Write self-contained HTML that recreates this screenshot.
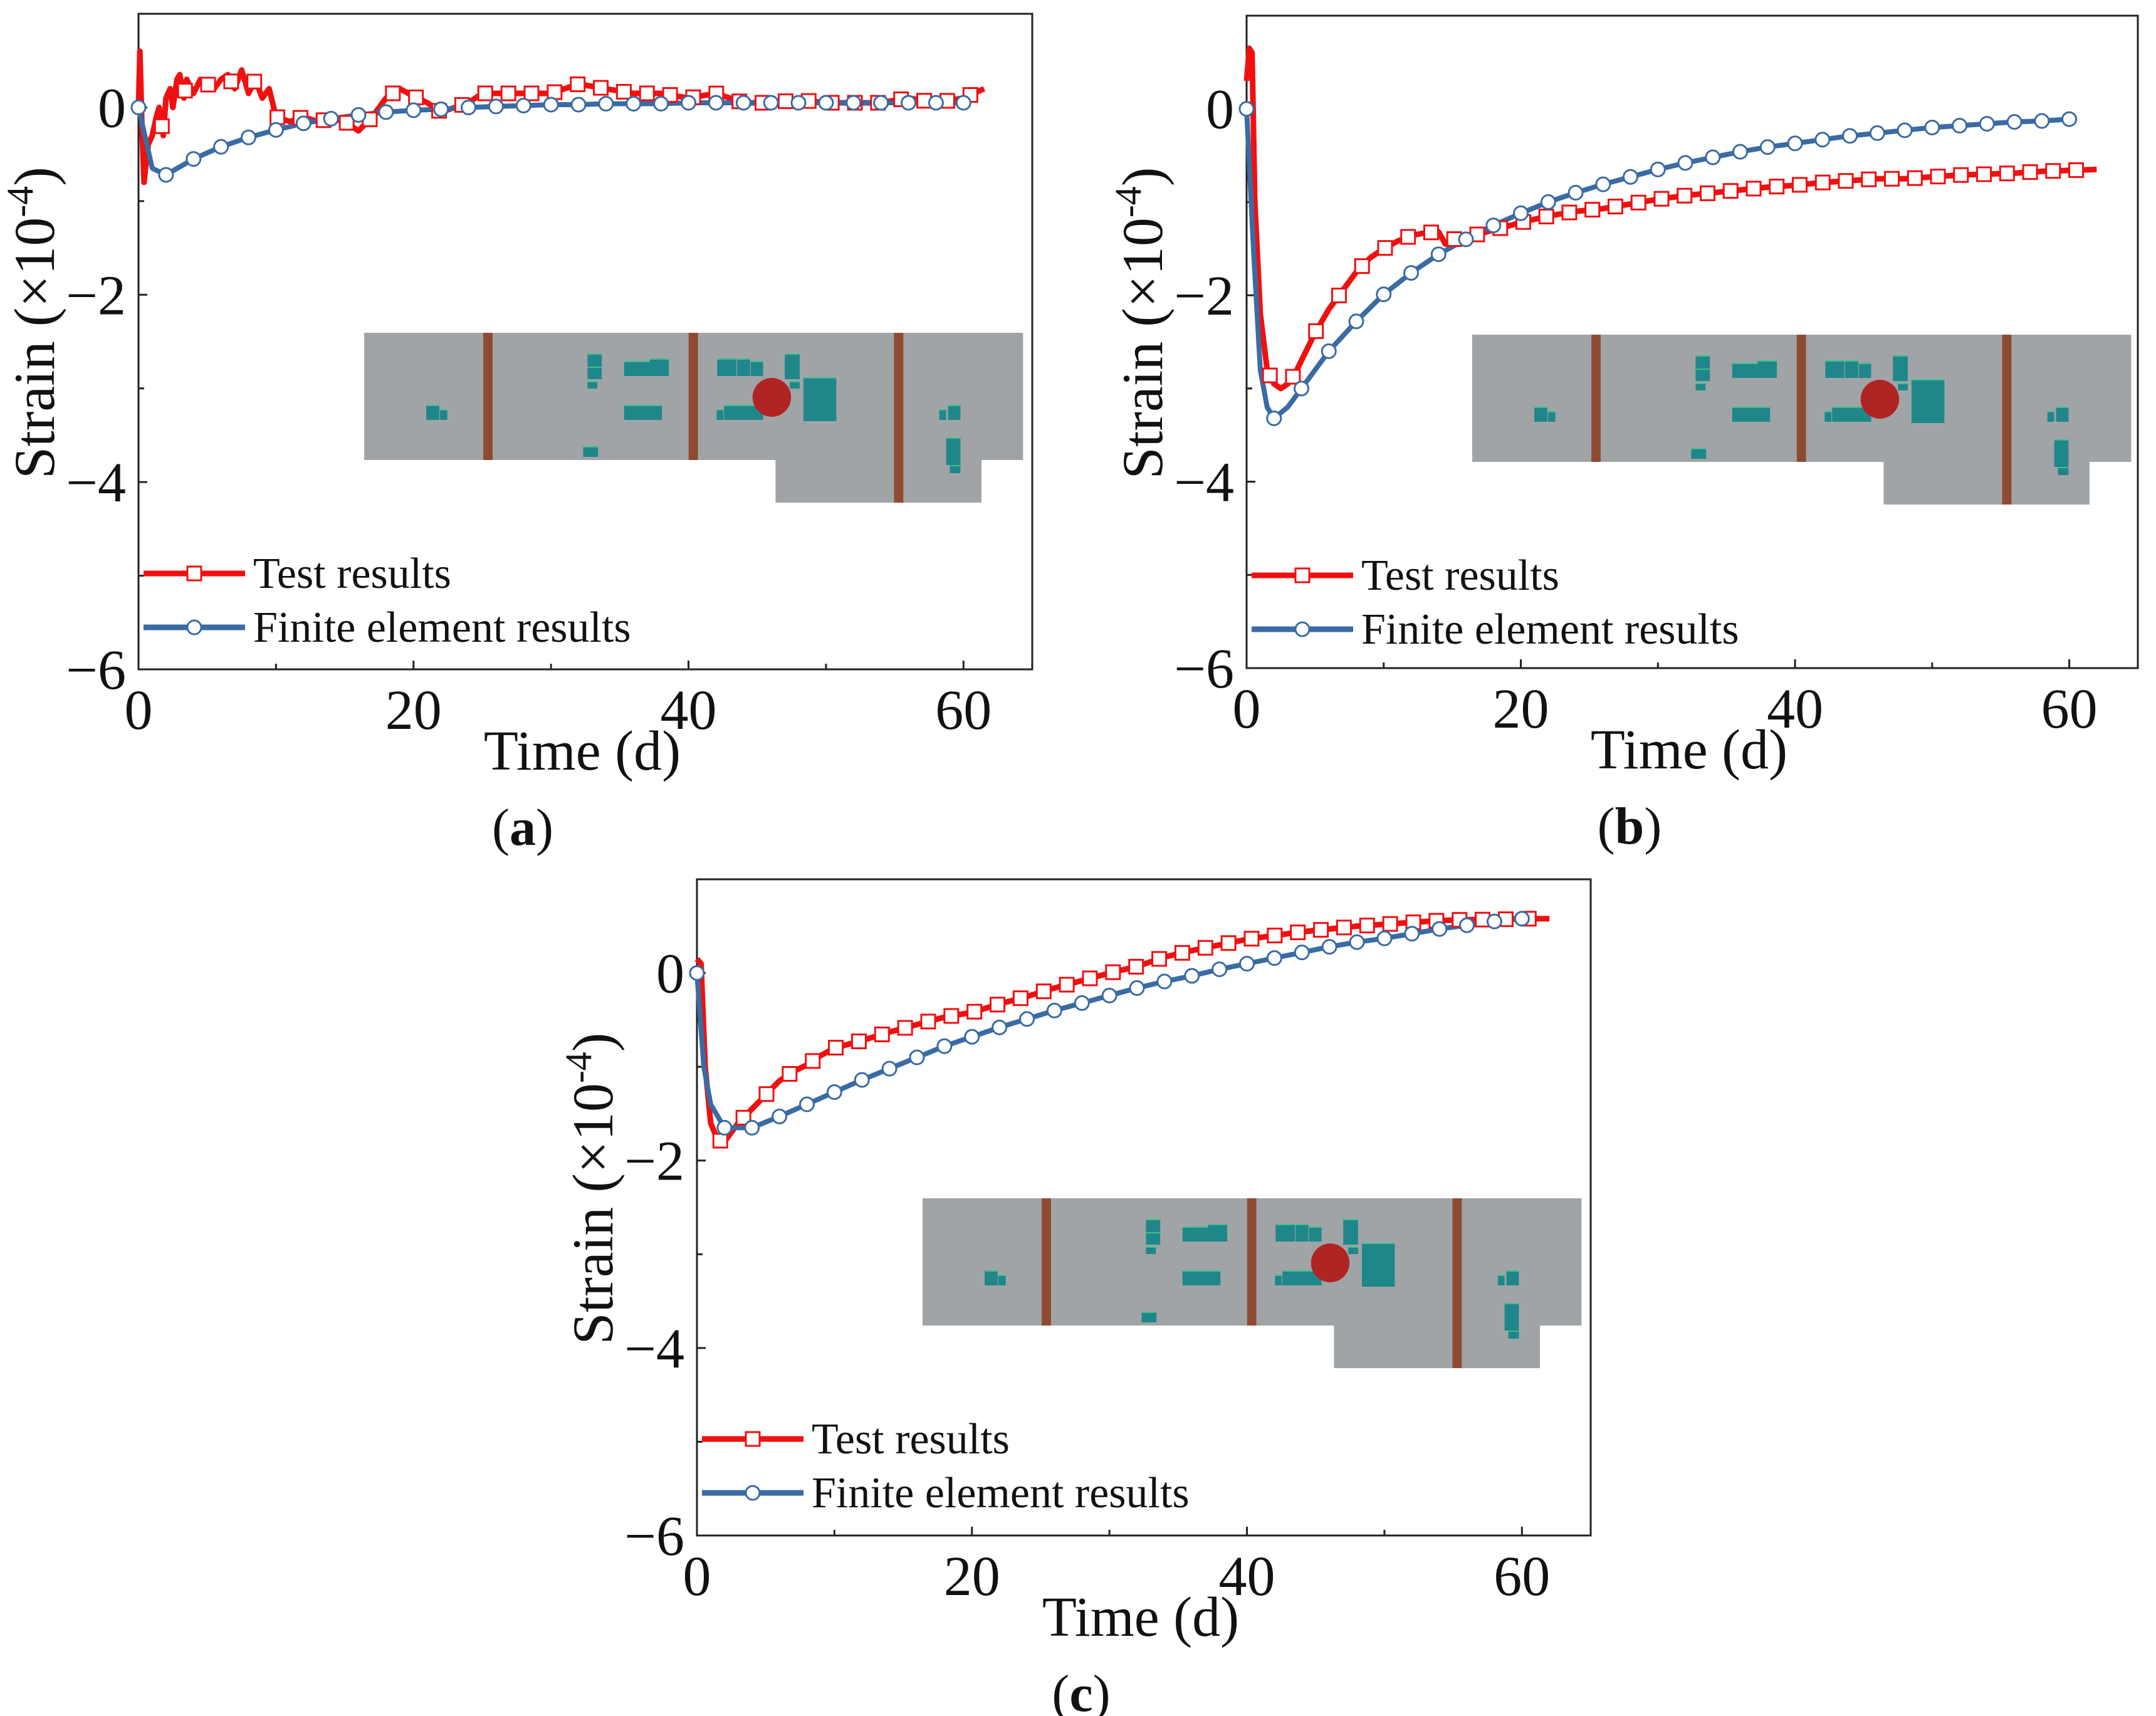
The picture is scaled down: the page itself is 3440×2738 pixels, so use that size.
<!DOCTYPE html>
<html><head><meta charset="utf-8"><style>
html,body{margin:0;padding:0;background:#fff;}
svg{display:block;font-family:"Liberation Serif",serif;}
</style></head><body>
<svg id="fig" width="3440" height="2738" viewBox="0 0 3440 2738" xmlns="http://www.w3.org/2000/svg"></svg>
<script>
// ---- data ----
const xTicks = [0, 20, 40, 60];
const xTickLabels = ["0", "20", "40", "60"];
const yTicks = [0, -2, -4, -6];
const yTickLabels = ["0", "\u22122", "\u22124", "\u22126"];
const panelLabels = ["a", "b", "c"];

const testA_t = [0,0.1,0.25,0.4,0.7,1,1.3,1.5,1.8,2,2.3,2.5,2.8,3,3.3,3.5,4,4.5,5,5.5,6,6.5,7,7.5,8,8.5,9,9.5,10,11,12,13,14,15,16,17,18,19,20,21,22,24,25,27,30,32,34,36,38,40,42,44,46,48,50,52,54,56,58,60,61.5];
const testA_v = [0,0.6,-0.2,-0.8,-0.4,-0.3,-0.1,0.0,-0.3,0.1,0.2,0.0,0.3,0.35,0.1,0.3,0.15,0.3,0.25,0.2,0.3,0.35,0.2,0.4,0.15,0.3,0.1,0.2,-0.1,-0.15,-0.1,-0.15,-0.12,-0.15,-0.25,-0.1,0.1,0.2,0.12,0.05,-0.05,0.05,0.15,0.15,0.15,0.25,0.2,0.15,0.15,0.1,0.15,0.05,0.05,0.08,0.05,0.05,0.05,0.1,0.05,0.1,0.2];
const feA_t = [0,1,2,4,6,8,10,12,14,16,18,20,22,24,26,28,30,32,34,36,38,40,42,44,46,48,50,52,54,56,58,60];
const feA_v = [0,-0.65,-0.72,-0.55,-0.42,-0.32,-0.24,-0.17,-0.12,-0.08,-0.05,-0.03,-0.02,0,0.01,0.02,0.03,0.03,0.04,0.04,0.04,0.05,0.05,0.05,0.05,0.05,0.05,0.05,0.05,0.05,0.05,0.05];

const testB_t = [0,0.2,0.4,0.6,1,1.5,2,2.5,3,3.5,4,5,6,7,8,9,10,11,12,13,14,14.5,15,16,18,20,22,24,26,28,30,32,34,36,38,40,42,44,46,48,50,52,54,56,58,60,62];
const testB_v = [0.3,0.65,0.6,-1.0,-2.2,-2.8,-2.95,-3.0,-2.95,-2.85,-2.7,-2.4,-2.15,-1.95,-1.75,-1.6,-1.5,-1.42,-1.36,-1.33,-1.32,-1.45,-1.4,-1.38,-1.3,-1.22,-1.15,-1.1,-1.07,-1.02,-0.97,-0.93,-0.9,-0.87,-0.84,-0.82,-0.79,-0.77,-0.75,-0.75,-0.73,-0.71,-0.7,-0.69,-0.67,-0.66,-0.65];
const feB_t = [0,0.5,1,1.5,2,3,4,6,8,10,12,14,16,18,20,22,24,26,28,30,32,34,36,38,40,42,44,46,48,50,52,54,56,58,60];
const feB_v = [0,-1.5,-2.8,-3.2,-3.32,-3.2,-3.0,-2.6,-2.28,-1.99,-1.76,-1.56,-1.4,-1.25,-1.12,-1.0,-0.9,-0.81,-0.73,-0.65,-0.58,-0.52,-0.46,-0.41,-0.37,-0.33,-0.29,-0.26,-0.23,-0.2,-0.18,-0.16,-0.14,-0.13,-0.11];

const testC_t = [0,0.3,0.6,1,1.5,2,3,4,5,6,7,8,9,10,12,14,16,18,20,22,24,26,28,30,32,34,36,38,40,42,44,46,48,50,52,54,56,58,60,62];
const testC_v = [0.15,0.1,-1.0,-1.6,-1.78,-1.8,-1.6,-1.45,-1.3,-1.15,-1.05,-0.98,-0.88,-0.8,-0.72,-0.63,-0.55,-0.47,-0.42,-0.33,-0.25,-0.16,-0.08,0,0.07,0.17,0.24,0.3,0.36,0.4,0.44,0.47,0.5,0.52,0.54,0.56,0.57,0.57,0.58,0.58];
const feC_t = [0,0.5,1,2,4,6,8,10,12,14,16,18,20,22,24,26,28,30,32,34,36,38,40,42,44,46,48,50,52,54,56,58,60];
const feC_v = [0,-1.0,-1.4,-1.65,-1.65,-1.53,-1.4,-1.27,-1.14,-1.02,-0.9,-0.78,-0.68,-0.58,-0.49,-0.4,-0.32,-0.24,-0.16,-0.09,-0.03,0.04,0.1,0.16,0.22,0.28,0.33,0.37,0.42,0.47,0.51,0.55,0.58];

// ---- drawing ----
const NS = "http://www.w3.org/2000/svg";
const svg = document.getElementById('fig');
function mk(tag, attrs, parent){
  const e = document.createElementNS(NS, tag);
  for (const k in attrs) e.setAttribute(k, attrs[k]);
  (parent||svg).appendChild(e);
  return e;
}
const RED = "#f01010", BLUE = "#3a6ba3";
const panels = [
  {L:221, T:22, R:1647, B:1068, test:[testA_t,testA_v], fe:[feA_t,feA_v]},
  {L:1989, T:25, R:3411, B:1066, test:[testB_t,testB_v], fe:[feB_t,feB_v]},
  {L:1112, T:1403, R:2538, B:2450, test:[testC_t,testC_v], fe:[feC_t,feC_v]}
];
function interp(ts, vs, t){
  for (let i=1;i<ts.length;i++){ if (t<=ts[i]){ const f=(t-ts[i-1])/(ts[i]-ts[i-1]); return vs[i-1]+f*(vs[i]-vs[i-1]); } }
  return vs[vs.length-1];
}
const insetRects = [
  [100,115,21,24],[122,122,12,17],
  [360,33,23,21],[360,54,23,20],[360,77,16,12],
  [419,45,20,24],[439,45,21,24],[460,41,31,28],
  [419,115,61,24],[353,181,24,17],
  [569,41,31,28],[601,41,21,28],[623,45,20,24],
  [568,122,11,17],[580,115,63,24],
  [678,33,24,41],[686,77,16,12],
  [708,71,53,70],
  [927,122,11,17],[941,115,20,24],
  [938,167,23,44],[944,211,17,13]
];

panels.forEach((p, pi) => {
  const g = mk('g', {});
  
  
  const W = p.R - p.L, H = p.B - p.T;
  const X = d => p.L + d / 65 * W;
  const Y = v => p.T + (1 - v) / 7 * H;

  // inset schematic
  const ix = p.L + 360, iy = p.T + 509;
  const ins = mk('g', {transform:`translate(${ix},${iy}) scale(0.99,1)`}, g);
  
  
  mk('rect', {x:0,y:0,width:1062,height:203,fill:'#a0a4a7'}, ins);
  mk('rect', {x:663,y:200,width:332,height:71,fill:'#a0a4a7'}, ins);
  [[192,0,203],[523,0,203],[854,0,271]].forEach(b => mk('rect',{x:b[0],y:b[1],width:15,height:b[2],fill:'#8e4b33'}, ins));
  insetRects.forEach(r => {
    mk('rect',{x:r[0],y:r[1],width:r[2],height:r[3],fill:'#1f878a'}, ins);
    mk('rect',{x:r[0],y:r[1],width:r[2],height:2,fill:'#3fbf8a'}, ins);
  });
  const dot = mk('circle',{cx:657,cy:103,r:31,fill:'#b02424'}, ins);
  
  

  // axes frame
  const frame = mk('rect', {x:p.L, y:p.T, width:W, height:H, fill:'none', stroke:'#222', 'stroke-width':3}, g);
  
  
  [10,20,30,40,50,60].forEach(d => mk('line',{x1:X(d),x2:X(d),y1:p.B,y2:p.B-(d%20===0?14:9),stroke:'#222','stroke-width':3}, g));
  [1,0,-1,-2,-3,-4,-5].forEach(v => mk('line',{x1:p.L,x2:p.L+(v%2===0?14:9),y1:Y(v),y2:Y(v),stroke:'#222','stroke-width':3}, g));
  xTicks.forEach((d,i) => {
    const t = mk('text',{x:X(d), y:p.B+95, 'font-size':90, 'text-anchor':'middle', fill:'#111'}, g);
    t.textContent = xTickLabels[i];
    
    
  });
  yTicks.forEach((v,i) => {
    const t = mk('text',{x:p.L-20, y:Y(v)+31, 'font-size':90, 'text-anchor':'end', fill:'#111'}, g);
    t.textContent = yTickLabels[i];
    
    
  });
  const xt = mk('text',{x:(p.L+p.R)/2-5, y:p.B+160, 'font-size':90, 'text-anchor':'middle', fill:'#111'}, g);
  xt.textContent = 'Time (d)';
  
  
  const yt = mk('text',{transform:`translate(${p.L-135},${(p.T+p.B)/2-30}) rotate(-90)`, 'font-size':92, 'text-anchor':'middle', fill:'#111'}, g);
  yt.innerHTML = 'Strain (\u00d710<tspan dy="-34" font-size="60">-4</tspan><tspan dy="34">)</tspan>';
  
  
  const pl = mk('text',{x:(p.L+p.R)/2-100, y:p.B+280, 'font-size':84, 'text-anchor':'middle', fill:'#111'}, g);
  pl.innerHTML = '(<tspan font-weight="bold">' + panelLabels[pi] + '</tspan>)';
  
  

  // series
  const [tt, tv] = p.test, [ft, fv] = p.fe;
  const red = mk('polyline',{points: tt.map((t,i)=>X(t)+','+Y(tv[i])).join(' '), fill:'none', stroke:RED, 'stroke-width':9, 'stroke-linejoin':'round'}, g);
  
  
  const blue = mk('polyline',{points: ft.map((t,i)=>X(t)+','+Y(fv[i])).join(' '), fill:'none', stroke:BLUE, 'stroke-width':8, 'stroke-linejoin':'round'}, g);
  
  
  const tEnd = tt[tt.length-1];
  for (let t = 1.7; t <= tEnd + 0.01; t += 1.68) {
    const m = mk('rect',{x:X(t)-11, y:Y(interp(tt,tv,t))-11, width:22, height:22, fill:'#fff', stroke:RED, 'stroke-width':3}, g);
    
    
  }
  ft.forEach((t,i) => {
    if (Math.abs(t - Math.round(t/2)*2) > 0.01) return;
    const c = mk('circle',{cx:X(t), cy:Y(fv[i]), r:11, fill:'#fff', stroke:BLUE, 'stroke-width':3}, g);
    
    
  });

  // legend
  const lg = mk('g', {}, g);
  
  
  [[RED,'Test results',893,'sq'],[BLUE,'Finite element results',979,'ci']].forEach(e => {
    const y = p.T + e[2];
    mk('line',{x1:p.L+8,x2:p.L+170,y1:y,y2:y,stroke:e[0],'stroke-width':9}, lg);
    if (e[3]==='sq') mk('rect',{x:p.L+78,y:y-11,width:22,height:22,fill:'#fff',stroke:e[0],'stroke-width':3}, lg);
    else mk('circle',{cx:p.L+89,cy:y,r:11,fill:'#fff',stroke:e[0],'stroke-width':3}, lg);
    const t = mk('text',{x:p.L+183, y:y+23, 'font-size':70, fill:'#111'}, lg);
    t.textContent = e[1];
    
    
  });
});
</script>
</body></html>
